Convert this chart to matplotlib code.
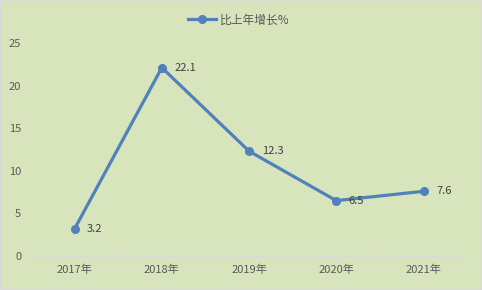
import matplotlib
matplotlib.use("Agg")
import matplotlib.pyplot as plt
import numpy as np

plt.rcParams["font.family"] = ["Noto Sans CJK SC", "DejaVu Sans"]

years = ["2017年", "2018年", "2019年", "2020年", "2021年"]
growth = [3.2, 22.1, 12.3, 6.5, 7.6]
series_name = "比上年增长%"

BG = "#D8E4BC"
LINE = "#4F81BD"
TXT = "#595959"

fig = plt.figure(figsize=(4.82, 2.9), dpi=100, facecolor=BG)
ax = fig.add_axes([0.0643, 0.117, 0.905, 0.735], facecolor=BG)

x = np.arange(len(years))
ax.plot(x, growth, color=LINE, linewidth=2.3, marker="o", markersize=5.5,
        label=series_name)
for xi, v in zip(x, growth):
    ax.annotate(f"{v}", (xi, v), xytext=(9, 0), textcoords="offset points",
                fontsize=8, color="#404040", va="center", ha="left")

ax.set_xlim(-0.5, len(years) - 0.5)
ax.set_ylim(0, 25)
ax.set_yticks(range(0, 26, 5))
ax.set_xticks(x)
ax.set_xticklabels(years)
ax.set_xticks(np.arange(-0.5, len(years)), minor=True)
ax.tick_params(axis="x", which="major", length=0, labelsize=8, colors=TXT, pad=6)
ax.tick_params(axis="x", which="minor", length=4, color="#D9D9D9", direction="in")
ax.tick_params(axis="y", length=0, labelsize=8, colors=TXT, pad=7)
for s in ["top", "right", "left"]:
    ax.spines[s].set_visible(False)
ax.spines["bottom"].set_color("#D9D9D9")
ax.spines["bottom"].set_linewidth(1)

fig.legend(loc="upper center", bbox_to_anchor=(0.495, 0.99), frameon=False,
           fontsize=8.5, labelcolor=TXT, handlelength=2.4, handletextpad=0.3)

border = plt.Rectangle((0, 0), 1, 1, transform=fig.transFigure, fill=False,
                       edgecolor="#D9D9D9", linewidth=1.5)
fig.patches.append(border)

fig.savefig("out.png", dpi=100, facecolor=BG)
